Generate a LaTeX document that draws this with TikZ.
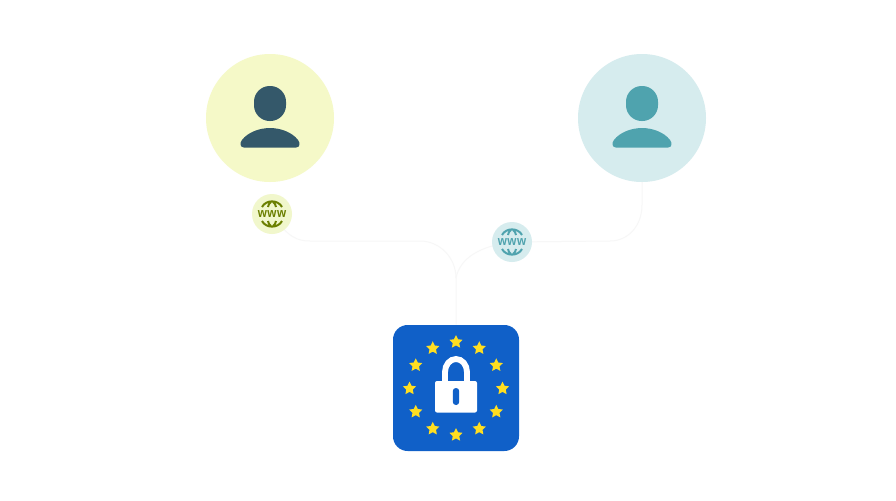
\documentclass[tikz,border=0pt]{standalone}
\usepackage{fontspec}
\setmainfont{Liberation Sans}
\usetikzlibrary{shapes.geometric}
\definecolor{lemonbg}{HTML}{F5F9C8}
\definecolor{lemonsm}{HTML}{F1F7CC}
\definecolor{tealbg}{HTML}{D6ECEE}
\definecolor{navy}{HTML}{34586A}
\definecolor{teal}{HTML}{4FA3AE}
\definecolor{olive}{HTML}{6B7F00}
\definecolor{eublue}{HTML}{1060C8}
\definecolor{eustar}{HTML}{FFDE21}
\definecolor{wirecol}{HTML}{F7F7F7}
\tikzset{
  x=0.75pt,y=-0.75pt,
  avatar/.style={circle,minimum size=96pt,inner sep=0pt,fill=#1},
  badge/.style={circle,minimum size=30pt,inner sep=0pt,fill=#1},
  wire/.style={draw=wirecol,line width=0.75pt},
  eustarn/.style={star,star points=5,star point ratio=2.05,minimum size=10.5pt,inner sep=0pt,fill=eustar},
  wwwtext/.style={font=\fontsize{8.8pt}{10pt}\bfseries\addfontfeature{LetterSpace=4},inner sep=0pt,text=#1},
}
\newcommand{\personicon}[3]{%
  \fill[#3,rounded corners=11.8pt] (#1-16,#2-32) rectangle (#1+16,#2+3);
  \fill[#3] (#1-26,#2+29.5)
     .. controls (#1-30,#2+29.5) and (#1-30.5,#2+25) .. (#1-28,#2+22)
     .. controls (#1-22,#2+14) and (#1-10,#2+10) .. (#1,#2+10)
     .. controls (#1+10,#2+10) and (#1+22,#2+14) .. (#1+28,#2+22)
     .. controls (#1+30.5,#2+25) and (#1+30,#2+29.5) .. (#1+26,#2+29.5)
     -- cycle;
}
\newcommand{\globeicon}[3]{%
  \begin{scope}[draw=#3,line width=1.5pt]
    \draw (#1-10,#2-7) .. controls (#1-6,#2-14.5) and (#1+6,#2-14.5) .. (#1+10,#2-7);
    \draw (#1-10,#2+7) .. controls (#1-6,#2+14.5) and (#1+6,#2+14.5) .. (#1+10,#2+7);
    \draw (#1-4,#2-7) .. controls (#1-4,#2-9) and (#1-2.5,#2-11) .. (#1-1,#2-12);
    \draw (#1+4,#2-7) .. controls (#1+4,#2-9) and (#1+2.5,#2-11) .. (#1+1,#2-12);
    \draw (#1-4,#2+7) .. controls (#1-4,#2+9) and (#1-2.5,#2+11) .. (#1-1,#2+12);
    \draw (#1+4,#2+7) .. controls (#1+4,#2+9) and (#1+2.5,#2+11) .. (#1+1,#2+12);
  \end{scope}
}
\begin{document}
\begin{tikzpicture}
\useasboundingbox (0,0) rectangle (896,500);
\fill[white] (0,0) rectangle (896,500);

% nodes
\coordinate (join) at (456,278);
\coordinate (wireAa) at (310,241);
\coordinate (wireAb) at (420,241);
\coordinate (wireBa) at (610,241);
\coordinate (wireBb) at (642,205);
\node[minimum size=94.5pt,inner sep=0pt] (eu) at (456,388) {};
\path (272,214) coordinate (wwwAc) (512,242) coordinate (wwwBc) (642,118) coordinate (userBc);

% connectors
\draw[wire] (wwwAc) .. controls (288,238) and (298,241) .. (wireAa) -- (wireAb)
   .. controls (440,241) and (456,258) .. (join) -- (eu.north);
\draw[wire] (userBc) -- (wireBb) .. controls (642,226) and (628,241) .. (wireBa) -- (wwwBc);
\draw[wire] (wwwBc) .. controls (480,246) and (460,258) .. (join);

\node[avatar=lemonbg] (userA) at (270,118) {};
\node[avatar=tealbg] (userB) at (userBc) {};
\node[badge=lemonsm] (wwwA) at (wwwAc) {};
\node[badge=tealbg] (wwwB) at (wwwBc) {};

% person icons
\personicon{270}{118}{navy}
\personicon{642}{118}{teal}

% www badges
\globeicon{272}{214}{olive}
\node[wwwtext=olive] (labelA) at (272,214) {\scalebox{1}[1.12]{www}};
\globeicon{512}{242}{teal}
\node[wwwtext=teal] (labelB) at (512,242) {\scalebox{1}[1.12]{www}};

% EU box
\fill[eublue,rounded corners=11pt] (393,325) rectangle (519,451);
\foreach \i in {0,...,11}{
  \node[eustarn] (star\i) at ({456+46.5*sin(30*\i)},{388.5-46.5*cos(30*\i)}) {};
}
% padlock
\draw[white,line width=4.4pt] (445,384) -- (445,372) arc[start angle=180,end angle=0,x radius=11,y radius=-13] -- (467,384);
\fill[white,rounded corners=1.5pt] (435,381) rectangle (477,412.5);
\fill[eublue,rounded corners=2.3pt] (452.8,388) rectangle (459.2,405);
\end{tikzpicture}
\end{document}
